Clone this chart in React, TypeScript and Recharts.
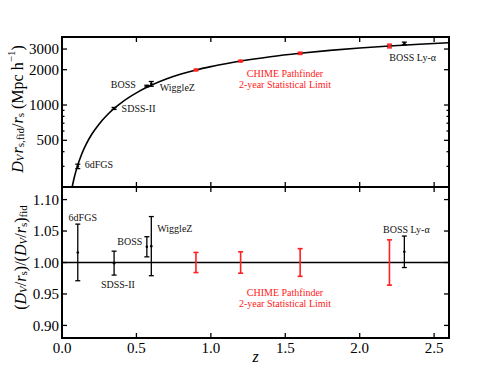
import React from 'react';
import {
  ComposedChart,
  Line,
  Scatter,
  XAxis,
  YAxis,
  ErrorBar,
  ReferenceLine,
  ReferenceDot,
  ReferenceArea,
} from 'recharts';

const FONT = 'Liberation Serif, Times New Roman, serif';
const RED = '#ff2020';

// ---- fiducial D_V r_s,fid / r_s curve ----
const curveZ = [0.04, 0.06, 0.08, 0.1, 0.13, 0.16, 0.2, 0.25, 0.3, 0.35, 0.4, 0.45, 0.5, 0.57, 0.6, 0.7, 0.8, 0.9, 1.0, 1.1, 1.2, 1.4, 1.6, 1.8, 2.0, 2.2, 2.4, 2.6];
const curveDV = [118, 176, 234, 291, 375, 457, 563, 690, 813, 935, 1050, 1162, 1270, 1415, 1475, 1665, 1835, 1990, 2125, 2250, 2370, 2580, 2760, 2920, 3060, 3185, 3295, 3395];

// ---- existing BAO measurements ----
const surveyNames = ['6dFGS', 'SDSS-II', 'BOSS', 'WiggleZ', 'BOSS Ly-α'];
const surveyZ = [0.106, 0.35, 0.57, 0.6, 2.3];
const surveyDV = [300, 935, 1450, 1515, 3350];
const surveyDVErr = [13, 18, 23, 71, 85];
const surveyRatio = [1.016, 0.999, 1.025, 1.026, 1.017];
const surveyRatioErr = [0.045, 0.019, 0.016, 0.047, 0.025];

// ---- CHIME Pathfinder forecast ----
const chimeZ = [0.9, 1.2, 1.6, 2.2];
const chimeDV = [1990, 2370, 2760, 3185];
const chimeDVErr = [32, 40, 61, 115];
const chimeRatio = [1.0, 1.0, 1.0, 1.0];
const chimeRatioErr = [0.016, 0.017, 0.022, 0.036];
const chimeLines = ['CHIME Pathfinder', '2-year Statistical Limit'];

// ---- ticks ----
const zTicks = [0, 0.5, 1.0, 1.5, 2.0, 2.5];
const zDomain = [0, 2.6];
const dvTicks = [500, 1000, 2000, 3000];
const dvAllTicks = [300, 400, 500, 600, 700, 800, 900, 1000, 2000, 3000];
const dvDomain = [200, 3800];
const ratioTicks = [0.9, 0.95, 1.0, 1.05, 1.1];
const ratioDomain = [0.88, 1.12];

const curveData = curveZ.map((z, i) => ({ z, dv: curveDV[i] }));
const surveyTop = surveyZ.map((z, i) => ({ z, dv: surveyDV[i], err: surveyDVErr[i] }));
const chimeTop = chimeZ.map((z, i) => ({ z, dv: chimeDV[i], err: chimeDVErr[i] }));
const surveyBot = surveyZ.map((z, i) => ({ z, r: surveyRatio[i], err: surveyRatioErr[i] }));
const chimeBot = chimeZ.map((z, i) => ({ z, r: chimeRatio[i], err: chimeRatioErr[i] }));

const TW = 1.3;
const MAJ = 5;
const MIN = 2.5;
const LEFT_MARGIN = 3;
const BOTTOM_MARGIN = 4;

const isMajor = (majors: number[], v: number) => majors.some((m) => Math.abs(m - v) < 1e-9);

const leftTick = (majors: number[], fmt: (v: number) => string) => (p: any) => {
  const v = p.payload.value;
  const ax = p.x + LEFT_MARGIN;
  const major = isMajor(majors, v);
  return (
    <g>
      <line x1={ax} x2={ax + (major ? MAJ : MIN)} y1={p.y} y2={p.y} stroke="#000" strokeWidth={TW} />
      {major && (
        <text x={p.x} y={p.y} dy="0.34em" textAnchor="end" fontFamily={FONT} fontSize={15} fill="#000">
          {fmt(v)}
        </text>
      )}
    </g>
  );
};
const rightTick = (majors: number[]) => (p: any) => {
  const major = isMajor(majors, p.payload.value);
  return <line x1={p.x - (major ? MAJ : MIN)} x2={p.x} y1={p.y} y2={p.y} stroke="#000" strokeWidth={TW} />;
};
const topTick = (p: any) => <line x1={p.x} x2={p.x} y1={p.y} y2={p.y + MAJ} stroke="#000" strokeWidth={TW} />;
const bottomTick = (p: any) => <line x1={p.x} x2={p.x} y1={p.y} y2={p.y - MAJ} stroke="#000" strokeWidth={TW} />;
const bottomLabelTick = (p: any) => {
  const ay = p.y - BOTTOM_MARGIN;
  return (
    <g>
      <line x1={p.x} x2={p.x} y1={ay} y2={ay - MAJ} stroke="#000" strokeWidth={TW} />
      <text x={p.x} y={p.y} dy="0.72em" textAnchor="middle" fontFamily={FONT} fontSize={15} fill="#000">
        {Number(p.payload.value).toFixed(1)}
      </text>
    </g>
  );
};

const dotShape = (color: string, r: number) => (p: any) =>
  p.cx == null ? <g /> : <circle cx={p.cx} cy={p.cy} r={r} fill={color} />;
const noShape = () => <g />;

type AnnCfg = { lines: string[]; dx: number; dy: number; anchor: 'start' | 'middle' | 'end'; color: string };

const annLabel = (cfg: AnnCfg) => (p: any) => {
  const vb = p.viewBox || { x: 0, y: 0, width: 0, height: 0 };
  const cx = vb.x + (vb.width || 0) / 2 + cfg.dx;
  const cy = vb.y + (vb.height || 0) / 2 + cfg.dy;
  return (
    <text x={cx} y={cy} textAnchor={cfg.anchor} dominantBaseline="central" fontFamily={FONT} fontSize={10} fill={cfg.color}>
      {cfg.lines.map((l, i) => (
        <tspan key={i} x={cx} dy={i === 0 ? 0 : 10.8}>
          {l}
        </tspan>
      ))}
    </text>
  );
};

const renderAnn = (key: string, x: number, y: number, cfg: AnnCfg, xId: string, yId: string) => (
  <ReferenceDot key={key} xAxisId={xId} yAxisId={yId} x={x} y={y} r={1} fill="none" stroke="none" ifOverflow="visible" label={annLabel(cfg)} />
);

const topYLabel = (p: any) => {
  const vb = p.viewBox;
  const x = vb.x + 17;
  const y = vb.y + vb.height / 2 - 3;
  return (
    <text x={x} y={y} transform={`rotate(-90, ${x}, ${y})`} textAnchor="middle" dominantBaseline="central" fontFamily={FONT} fontSize={16} fill="#000">
      <tspan fontStyle="italic">D</tspan>
      <tspan fontStyle="italic" fontSize={11} dy={3}>V</tspan>
      <tspan fontStyle="italic" dy={-3} dx={1}>r</tspan>
      <tspan fontSize={11} dy={3}>s,fid</tspan>
      <tspan dy={-3}>/</tspan>
      <tspan fontStyle="italic">r</tspan>
      <tspan fontSize={11} dy={3}>s</tspan>
      <tspan dy={-3}> (Mpc h</tspan>
      <tspan fontSize={11} dy={-6}>−1</tspan>
      <tspan dy={6}>)</tspan>
    </text>
  );
};

const botYLabel = (p: any) => {
  const vb = p.viewBox;
  const x = vb.x + 20;
  const y = vb.y + vb.height / 2 - 5;
  return (
    <text x={x} y={y} transform={`rotate(-90, ${x}, ${y})`} textAnchor="middle" dominantBaseline="central" fontFamily={FONT} fontSize={16} fill="#000">
      <tspan>(</tspan>
      <tspan fontStyle="italic">D</tspan>
      <tspan fontStyle="italic" fontSize={11} dy={3}>V</tspan>
      <tspan dy={-3}>/</tspan>
      <tspan fontStyle="italic">r</tspan>
      <tspan fontSize={11} dy={3}>s</tspan>
      <tspan dy={-3}>)/(</tspan>
      <tspan fontStyle="italic">D</tspan>
      <tspan fontStyle="italic" fontSize={11} dy={3}>V</tspan>
      <tspan dy={-3}>/</tspan>
      <tspan fontStyle="italic">r</tspan>
      <tspan fontSize={11} dy={3}>s</tspan>
      <tspan dy={-3}>)</tspan>
      <tspan fontSize={11} dy={3}>fid</tspan>
    </text>
  );
};

const zLabel = (p: any) => {
  const vb = p.viewBox;
  return (
    <text x={vb.x + vb.width / 2} y={vb.y + 24} textAnchor="middle" fontFamily={FONT} fontStyle="italic" fontSize={16} fill="#000">
      z
    </text>
  );
};

const FRAME = { fill: 'none', stroke: '#000', strokeWidth: 2, fillOpacity: 0 };

export default function App() {
  const topAnn: [number, AnnCfg][] = [
    [0, { lines: [surveyNames[0]], dx: 7, dy: -2, anchor: 'start', color: '#111' }],
    [1, { lines: [surveyNames[1]], dx: 7.5, dy: -0.5, anchor: 'start', color: '#111' }],
    [2, { lines: [surveyNames[2]], dx: -11, dy: -2, anchor: 'end', color: '#111' }],
    [3, { lines: [surveyNames[3]], dx: 8.5, dy: 2.8, anchor: 'start', color: '#111' }],
    [4, { lines: [surveyNames[4]], dx: -15, dy: 13.3, anchor: 'start', color: '#111' }],
  ];
  const botAnn: [number, AnnCfg][] = [
    [0, { lines: [surveyNames[0]], dx: 5, dy: -35.7, anchor: 'middle', color: '#111' }],
    [1, { lines: [surveyNames[1]], dx: 3.8, dy: 21.2, anchor: 'middle', color: '#111' }],
    [2, { lines: [surveyNames[2]], dx: -4.5, dy: -5.8, anchor: 'end', color: '#111' }],
    [3, { lines: [surveyNames[3]], dx: 6, dy: -17.8, anchor: 'start', color: '#111' }],
    [4, { lines: [surveyNames[4]], dx: 2, dy: -22.8, anchor: 'middle', color: '#111' }],
  ];

  return (
    <div style={{ position: 'absolute', left: 0, top: 0, width: 499, height: 376, background: '#fff' }}>
      <div style={{ position: 'absolute', left: 0, top: 0 }}>
        <ComposedChart width={499} height={190} data={curveData} margin={{ top: 0, right: 0, bottom: 0, left: 0 }}>
          <XAxis xAxisId="b" dataKey="z" type="number" domain={zDomain} ticks={zTicks} interval={0} allowDataOverflow orientation="bottom" height={3} tickSize={0} tickMargin={0} tickLine={false} axisLine={false} tick={bottomTick} />
          <XAxis xAxisId="t" dataKey="z" type="number" domain={zDomain} ticks={zTicks} interval={0} allowDataOverflow orientation="top" height={37} tickSize={0} tickMargin={0} tickLine={false} axisLine={false} tick={topTick} />
          <YAxis yAxisId="l" type="number" scale="log" domain={dvDomain} ticks={dvAllTicks} interval={0} allowDataOverflow width={62} tickSize={0} tickMargin={LEFT_MARGIN} tickLine={false} axisLine={false} tick={leftTick(dvTicks, (v) => String(v))} label={topYLabel} />
          <YAxis yAxisId="r" orientation="right" type="number" scale="log" domain={dvDomain} ticks={dvAllTicks} interval={0} allowDataOverflow width={50} tickSize={0} tickMargin={0} tickLine={false} axisLine={false} tick={rightTick(dvTicks)} />
          <ReferenceArea xAxisId="b" yAxisId="l" x1={zDomain[0]} x2={zDomain[1]} y1={dvDomain[0]} y2={dvDomain[1]} ifOverflow="visible" {...FRAME} />
          <Line xAxisId="b" yAxisId="l" dataKey="dv" type="monotone" stroke="#000" strokeWidth={1.6} dot={false} isAnimationActive={false} />
          <Scatter xAxisId="b" yAxisId="l" data={surveyTop} dataKey="dv" shape={dotShape('#000', 1.3)} isAnimationActive={false}>
            <ErrorBar dataKey="err" direction="y" width={2.5} stroke="#000" strokeWidth={1.3} isAnimationActive={false} />
          </Scatter>
          <Scatter xAxisId="b" yAxisId="l" data={chimeTop} dataKey="dv" shape={dotShape(RED, 1.6)} isAnimationActive={false}>
            <ErrorBar dataKey="err" direction="y" width={2.5} stroke={RED} strokeWidth={1.5} isAnimationActive={false} />
          </Scatter>
          {topAnn.map(([i, cfg]) => renderAnn('ta' + i, surveyZ[i], surveyDV[i], cfg, 'b', 'l'))}
          {renderAnn('tc', chimeZ[1], chimeDV[1], { lines: chimeLines, dx: 44.4, dy: 12.3, anchor: 'middle', color: RED }, 'b', 'l')}
        </ComposedChart>
      </div>
      <div style={{ position: 'absolute', left: 0, top: 186 }}>
        <ComposedChart width={499} height={190} margin={{ top: 0, right: 0, bottom: 0, left: 0 }}>
          <XAxis xAxisId="m" dataKey="z" type="number" domain={zDomain} ticks={zTicks} interval={0} allowDataOverflow height={38} tickSize={0} tickMargin={BOTTOM_MARGIN} tickLine={false} axisLine={false} tick={bottomLabelTick} label={zLabel} />
          <XAxis xAxisId="tp" dataKey="z" type="number" domain={zDomain} ticks={zTicks} interval={0} allowDataOverflow orientation="top" height={1} tickSize={0} tickMargin={0} tickLine={false} axisLine={false} tick={topTick} />
          <YAxis yAxisId="m" type="number" domain={ratioDomain} ticks={ratioTicks} interval={0} allowDataOverflow width={62} tickSize={0} tickMargin={LEFT_MARGIN} tickLine={false} axisLine={false} tick={leftTick(ratioTicks, (v) => v.toFixed(2))} label={botYLabel} />
          <YAxis yAxisId="rm" orientation="right" type="number" domain={ratioDomain} ticks={ratioTicks} interval={0} allowDataOverflow width={50} tickSize={0} tickMargin={0} tickLine={false} axisLine={false} tick={rightTick(ratioTicks)} />
          <ReferenceArea xAxisId="m" yAxisId="m" x1={zDomain[0]} x2={zDomain[1]} y1={ratioDomain[0]} y2={ratioDomain[1]} ifOverflow="visible" {...FRAME} />
          <ReferenceLine xAxisId="m" yAxisId="m" y={1} stroke="#000" strokeWidth={1.5} />
          <Scatter xAxisId="m" yAxisId="m" data={surveyBot} dataKey="r" shape={dotShape('#000', 1.3)} isAnimationActive={false}>
            <ErrorBar dataKey="err" direction="y" width={2.5} stroke="#000" strokeWidth={1.3} isAnimationActive={false} />
          </Scatter>
          <Scatter xAxisId="m" yAxisId="m" data={chimeBot} dataKey="r" shape={noShape} isAnimationActive={false}>
            <ErrorBar dataKey="err" direction="y" width={2.5} stroke={RED} strokeWidth={1.6} isAnimationActive={false} />
          </Scatter>
          {botAnn.map(([i, cfg]) => renderAnn('ba' + i, surveyZ[i], surveyRatio[i], cfg, 'm', 'm'))}
          {renderAnn('bc', chimeZ[1], chimeRatio[1], { lines: chimeLines, dx: 44.4, dy: 29.8, anchor: 'middle', color: RED }, 'm', 'm')}
        </ComposedChart>
      </div>
    </div>
  );
}
